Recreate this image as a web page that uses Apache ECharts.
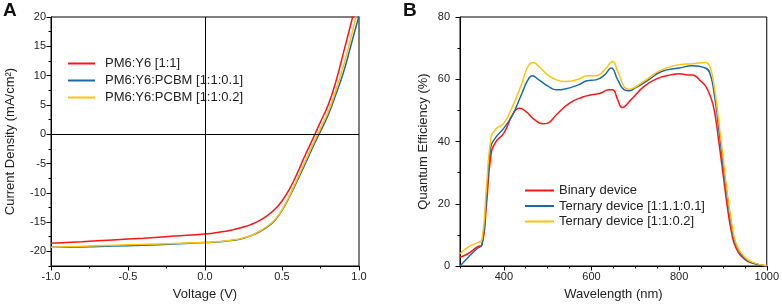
<!DOCTYPE html>
<html>
<head>
<meta charset="utf-8">
<script src="https://cdn.jsdelivr.net/npm/echarts@6/dist/echarts.min.js"></script>
<style>
  html, body { margin: 0; padding: 0; background: #fff; }
  #chart { width: 782px; height: 307px; }
</style>
</head>
<body>
<div id="chart"></div>
<script>
// panel A: J-V curves, [voltage (V), current density (mA/cm2)]
var jvBinary = [[-1, -18.6], [-0.8, -18.35], [-0.6, -18.05], [-0.4, -17.75], [-0.2, -17.4], [0, -17.05],
  [0.05, -16.9], [0.1, -16.7], [0.15, -16.5], [0.2, -16.2], [0.25, -15.85], [0.3, -15.4], [0.35, -14.8],
  [0.4, -14.0], [0.45, -12.9], [0.5, -11.4], [0.55, -9.3], [0.6, -6.6], [0.65, -3.6], [0.7, -0.8],
  [0.75, 2.1], [0.8, 5.0], [0.85, 9.0], [0.9, 14.0], [0.95, 19.1], [1.0, 24.2]];
var jvTernary01 = [[-1, -19.3], [-0.8, -19.25], [-0.6, -19.1], [-0.4, -18.95], [-0.2, -18.75], [0, -18.5],
  [0.05, -18.45], [0.1, -18.35], [0.15, -18.2], [0.2, -18.05], [0.25, -17.75], [0.3, -17.3], [0.35, -16.7],
  [0.4, -15.9], [0.45, -14.8], [0.5, -13.0], [0.55, -10.6], [0.6, -7.9], [0.65, -5.1], [0.7, -2.2],
  [0.75, 0.5], [0.8, 3.3], [0.85, 6.8], [0.9, 10.6], [0.95, 15.4], [1.0, 20.2]];
var jvTernary02 = [[-1, -19.3], [-0.8, -19.15], [-0.6, -18.95], [-0.4, -18.8], [-0.2, -18.65], [0, -18.5],
  [0.05, -18.4], [0.1, -18.3], [0.15, -18.15], [0.2, -18.0], [0.25, -17.7], [0.3, -17.3], [0.35, -16.6],
  [0.4, -15.8], [0.45, -14.7], [0.5, -12.9], [0.55, -10.4], [0.6, -7.6], [0.65, -4.7], [0.7, -1.8],
  [0.75, 1.0], [0.8, 3.8], [0.85, 7.5], [0.9, 11.7], [0.95, 16.7], [1.0, 22.3]];

// panel B: EQE, [wavelength (nm), EQE (%)]
var eqeBinary = [[300, 2.8], [320, 4.1], [340, 6.2], [350, 6.8], [360, 19], [370, 35], [380, 39.5], [400, 42.7],
  [420, 48.6], [435, 50.7], [450, 49.7], [470, 47], [490, 45.7], [500, 45.9], [520, 48.6], [550, 52.3],
  [580, 54.3], [600, 55], [620, 55.5], [640, 56.6], [648, 56.6], [660, 53.4], [670, 50.9], [690, 53.4],
  [720, 57.7], [750, 60.2], [780, 61.4], [800, 61.8], [820, 61.4], [830, 61.4], [850, 59.3], [860, 57.9],
  [870, 55], [880, 50.2], [890, 40.5], [900, 29.8], [910, 19], [920, 10.5], [930, 5.7], [950, 2.1],
  [970, 0.9], [1000, 0]];
var eqeTernary01 = [[300, 0], [320, 3], [340, 5.7], [350, 6.8], [360, 21], [370, 38], [380, 41], [400, 44.3],
  [420, 48.6], [440, 55], [455, 59.8], [465, 61.1], [480, 59.8], [500, 57.9], [520, 56.6], [540, 56.9],
  [570, 58.2], [590, 59.5], [610, 59.8], [630, 61.4], [645, 63.6], [660, 59.8], [675, 56.6], [685, 56.3],
  [700, 57.2], [730, 59.8], [760, 62.5], [800, 63.6], [830, 64.3], [860, 63.6], [870, 62], [880, 55.5],
  [890, 44.8], [900, 33], [910, 22.3], [920, 12.7], [930, 6.8], [950, 2.5], [970, 0.9], [1000, 0]];
var eqeTernary02 = [[300, 3.9], [320, 6.2], [340, 7.5], [350, 8.4], [360, 24.5], [370, 40.5], [380, 43.8], [400, 45.9],
  [420, 51.3], [440, 58.2], [455, 64.1], [467, 65.4], [480, 64.1], [500, 61.4], [520, 59.8], [540, 59.3],
  [570, 60], [590, 61.1], [610, 61.1], [630, 63], [648, 65.7], [660, 62.5], [675, 57.5], [685, 56.8],
  [700, 57.5], [730, 60.4], [760, 63], [800, 64.7], [830, 65], [860, 65.4], [870, 64.1], [880, 57.7],
  [890, 47], [900, 35.2], [910, 23.4], [920, 13.7], [930, 7.3], [950, 2.8], [970, 1.1], [1000, 0.1]];

var jvNames = ['PM6:Y6 [1:1]', 'PM6:Y6:PCBM [1:1:0.1]', 'PM6:Y6:PCBM [1:1:0.2]'];
var eqeNames = ['Binary device', 'Ternary device [1:1.1:0.1]', 'Ternary device [1:1:0.2]'];
var jvMajorTicks = [-20, -15, -10, -5, 0, 5, 10, 15, 20];
var wlMajorTicks = [400, 600, 800, 1000];

var RED = '#ff1414', BLUE = '#1a6aa6', YELLOW = '#ffc40a';
var FONT = 'Liberation Sans, Arial, sans-serif';

var myChart = echarts.init(document.getElementById('chart'));

function baseAxis(extra) {
  var a = {
    axisLine: { show: true, onZero: false, lineStyle: { color: '#000', width: 1 } },
    axisTick: { show: true, inside: false, length: 4.5, lineStyle: { color: '#000' } },
    axisLabel: { color: '#222', fontSize: 11, fontFamily: FONT, margin: 5 },
    splitLine: { show: false },
    nameTextStyle: { color: '#222', fontSize: 13, fontFamily: FONT },
    nameLocation: 'middle'
  };
  for (var k in extra) a[k] = extra[k];
  return a;
}

function plain(v) { return String(v); }

function line(name, data, color, xi, yi) {
  return {
    name: name, type: 'line', data: data, xAxisIndex: xi, yAxisIndex: yi,
    smooth: 0.5, showSymbol: false, symbol: 'none',
    lineStyle: { color: color, width: 1.5 }, itemStyle: { color: color },
    clip: true
  };
}

var option = {
  animation: false,
  backgroundColor: '#fff',
  grid: [
    { left: 51, top: 17, width: 308, height: 249, show: true, borderColor: '#000', borderWidth: 1 },
    { left: 460, top: 17, width: 308, height: 249, show: true, borderColor: '#000', borderWidth: 1 }
  ],
  legend: [
    {
      data: jvNames, orient: 'vertical', left: 63, top: 52, itemWidth: 27, itemHeight: 2, itemGap: 4,
      icon: 'rect', textStyle: { fontSize: 13, fontFamily: FONT, color: '#222', lineHeight: 13, padding: [0, 0, 0, 5] }
    },
    {
      data: eqeNames, orient: 'vertical', left: 520, top: 179, itemWidth: 29, itemHeight: 2, itemGap: 2.5,
      icon: 'rect', textStyle: { fontSize: 13, fontFamily: FONT, color: '#222', lineHeight: 13 }
    }
  ],
  xAxis: [
    baseAxis({
      gridIndex: 0, type: 'value', position: 'bottom', min: -1, max: 1, interval: 0.5,
      name: 'Voltage (V)', nameGap: 22,
      minorTick: { show: true, splitNumber: 2, length: 2.5, lineStyle: { color: '#000' } },
      axisLabel: { color: '#222', fontSize: 11, fontFamily: FONT, margin: 5,
        formatter: function (v) { return v.toFixed(1); } }
    }),
    baseAxis({
      gridIndex: 1, type: 'value', position: 'bottom', min: 300, max: 1000, interval: 50,
      axisTick: { show: true, length: 2.5, lineStyle: { color: '#000' } },
      axisLabel: { show: false }
    }),
    baseAxis({
      gridIndex: 1, type: 'value', position: 'bottom', min: 300, max: 1000,
      name: 'Wavelength (nm)', nameGap: 22,
      axisTick: { show: true, length: 4.5, customValues: wlMajorTicks, lineStyle: { color: '#000' } },
      axisLabel: { color: '#222', fontSize: 11, fontFamily: FONT, margin: 5, customValues: wlMajorTicks, formatter: plain }
    })
  ],
  yAxis: [
    baseAxis({
      gridIndex: 0, type: 'value', position: 'left', min: -22.5, max: 20, interval: 2.5,
      axisTick: { show: true, length: 2.5, lineStyle: { color: '#000' } },
      axisLabel: { show: false }
    }),
    baseAxis({
      gridIndex: 0, type: 'value', position: 'left', min: -22.5, max: 20,
      name: 'Current Density (mA/cm²)', nameGap: 34,
      axisTick: { show: true, length: 4.5, customValues: jvMajorTicks, lineStyle: { color: '#000' } },
      axisLabel: { color: '#222', fontSize: 11, fontFamily: FONT, margin: 5, customValues: jvMajorTicks, formatter: plain }
    }),
    baseAxis({
      gridIndex: 1, type: 'value', position: 'left', min: 0, max: 80, interval: 20,
      name: 'Quantum Efficiency (%)', nameGap: 30,
      minorTick: { show: true, splitNumber: 2, length: 2.5, lineStyle: { color: '#000' } },
      axisLabel: { color: '#222', fontSize: 11, fontFamily: FONT, margin: 10 }
    })
  ],
  graphic: [
    { type: 'text', left: 3, top: 1, style: { text: 'A', fontSize: 19, fontWeight: 'bold', fontFamily: FONT, fill: '#111' } },
    { type: 'text', left: 403, top: 1, style: { text: 'B', fontSize: 19, fontWeight: 'bold', fontFamily: FONT, fill: '#111' } }
  ],
  series: [
    {
      name: 'zero-lines', type: 'line', data: [], xAxisIndex: 0, yAxisIndex: 0,
      markLine: {
        silent: true, symbol: ['none', 'none'], label: { show: false },
        lineStyle: { color: '#000', width: 1, type: 'solid' },
        data: [{ xAxis: 0 }, { yAxis: 0 }]
      }
    },
    line(jvNames[0], jvBinary, RED, 0, 0),
    line(jvNames[1], jvTernary01, BLUE, 0, 0),
    line(jvNames[2], jvTernary02, YELLOW, 0, 0),
    line(eqeNames[0], eqeBinary, RED, 1, 2),
    line(eqeNames[1], eqeTernary01, BLUE, 1, 2),
    line(eqeNames[2], eqeTernary02, YELLOW, 1, 2)
  ]
};
myChart.setOption(option);
</script>
</body>
</html>
